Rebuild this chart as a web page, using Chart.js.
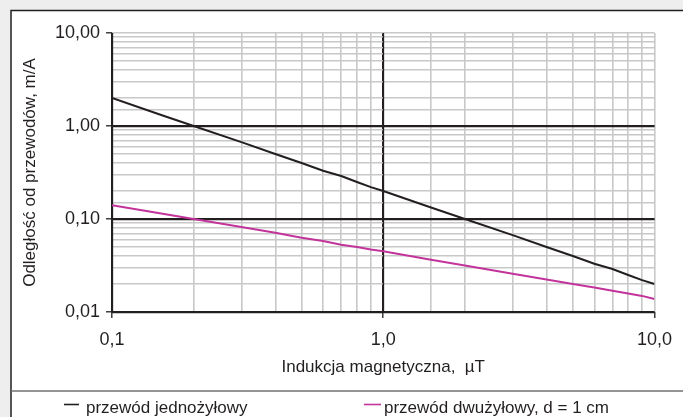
<!DOCTYPE html>
<html>
<head>
<meta charset="utf-8">
<script src="https://cdn.jsdelivr.net/npm/chart.js@4/dist/chart.umd.min.js"></script>
<style>
html,body{margin:0;padding:0;background:#eeeeee;overflow:hidden}
#c{display:block}
</style>
</head>
<body>
<canvas id="c" width="683" height="417"></canvas>
<script>
// ---- data ----
const induction = [0.1, 0.15, 0.2, 0.3, 0.4, 0.5, 0.6, 0.7, 0.8, 0.9, 1, 1.5, 2, 3, 4, 5, 6, 7, 8, 9, 10];
const singleWire = [2.0, 1.33, 1.0, 0.67, 0.5, 0.4, 0.33, 0.29, 0.25, 0.22, 0.2, 0.133, 0.1, 0.067, 0.05, 0.04, 0.033, 0.029, 0.025, 0.022, 0.02];
const twinWire = [0.141, 0.115, 0.1, 0.082, 0.071, 0.063, 0.058, 0.053, 0.05, 0.047, 0.045, 0.0365, 0.0316, 0.0258, 0.0224, 0.02, 0.0183, 0.0169, 0.0158, 0.0149, 0.0138];
const seriesLabels = ['przewód jednożyłowy', 'przewód dwużyłowy, d = 1 cm'];
const seriesColors = ['#231f20', '#c2349b'];
const xTickValues = [0.1, 1, 10];
const xTickLabels = ['0,1', '1,0', '10,0'];
const yTickValues = [0.01, 0.1, 1, 10];
const yTickLabels = ['0,01', '0,10', '1,00', '10,00'];
const xMajorLines = [0.1, 1];
const yMajorLines = [0.01, 0.1, 1];
const xTitle = 'Indukcja magnetyczna,  µT';
const yTitle = 'Odległość od przewodów, m/A';

const FONT = "'Liberation Sans', Arial, Helvetica, sans-serif";
const DARK = '#231f20';
const GRID = '#c8c8c8';

function findTick(v, vals) {
  for (let i = 0; i < vals.length; i++) {
    if (Math.abs(Math.log10(v) - Math.log10(vals[i])) < 1e-6) return i;
  }
  return -1;
}

const framePlugin = {
  id: 'frame',
  beforeDraw(chart) {
    const ctx = chart.ctx;
    ctx.save();
    ctx.fillStyle = '#eeeeee';
    ctx.fillRect(0, 0, chart.width, chart.height);
    ctx.fillStyle = '#ffffff';
    ctx.fillRect(11, 10, chart.width - 11, chart.height - 10);
    ctx.strokeStyle = DARK;
    ctx.lineWidth = 1.5;
    ctx.beginPath();
    ctx.moveTo(11, chart.height);
    ctx.lineTo(11, 10.5);
    ctx.lineTo(chart.width, 10.5);
    ctx.stroke();
    ctx.strokeStyle = '#707070';
    ctx.lineWidth = 1.5;
    ctx.beginPath();
    ctx.moveTo(11, 391);
    ctx.lineTo(chart.width, 391);
    ctx.stroke();
    ctx.restore();
  },
  beforeDatasetsDraw(chart) {
    // redraw the dark decade grid lines on top of the light minor grid
    const ctx = chart.ctx;
    const a = chart.chartArea;
    const xs = chart.scales.x, ys = chart.scales.y;
    ctx.save();
    ctx.strokeStyle = DARK;
    ctx.lineWidth = 1.3;
    ctx.beginPath();
    xMajorLines.forEach(v => {
      const px = Math.round(xs.getPixelForValue(v)) + 0.5;
      ctx.moveTo(px, a.top);
      ctx.lineTo(px, a.bottom);
    });
    yMajorLines.forEach(v => {
      const py = Math.round(ys.getPixelForValue(v)) + 0.5;
      ctx.moveTo(a.left, py);
      ctx.lineTo(a.right, py);
    });
    ctx.stroke();
    ctx.restore();
  },
  afterDraw(chart) {
    const ctx = chart.ctx;
    ctx.save();
    const items = [
      {x1: 64, x2: 79, tx: 86},
      {x1: 364, x2: 381, tx: 384}
    ];
    chart.data.datasets.forEach((ds, i) => {
      const it = items[i];
      ctx.strokeStyle = ds.borderColor;
      ctx.lineWidth = 1.6;
      ctx.beginPath();
      ctx.moveTo(it.x1, 404.5);
      ctx.lineTo(it.x2, 404.5);
      ctx.stroke();
      ctx.fillStyle = DARK;
      ctx.font = '17px ' + FONT;
      ctx.textBaseline = 'alphabetic';
      ctx.textAlign = 'left';
      ctx.fillText(ds.label, it.tx, 413);
    });
    ctx.restore();
  }
};

const pts = (ys) => induction.map((x, i) => ({x: x, y: ys[i]}));

new Chart(document.getElementById('c'), {
  type: 'line',
  data: {
    datasets: [
      {label: seriesLabels[0], data: pts(singleWire), borderColor: seriesColors[0], borderWidth: 2, pointRadius: 0, tension: 0, fill: false},
      {label: seriesLabels[1], data: pts(twinWire), borderColor: seriesColors[1], borderWidth: 2, pointRadius: 0, tension: 0, fill: false}
    ]
  },
  options: {
    responsive: false,
    animation: false,
    devicePixelRatio: 1,
    layout: {padding: {left: 12, top: 33, right: 27, bottom: 26}},
    plugins: {legend: {display: false}, tooltip: {enabled: false}},
    scales: {
      x: {
        type: 'logarithmic',
        min: 0.1,
        max: 10,
        afterFit(s) { s.height = 79; },
        border: {display: false},
        grid: {
          drawTicks: true,
          tickLength: 6,
          color: (c) => { const v = c.tick && c.tick.value; return (findTick(v, xMajorLines) >= 0) ? DARK : GRID; },
          lineWidth: 1.6,
          tickColor: (c) => { const v = c.tick && c.tick.value; return findTick(v, xTickValues) >= 0 ? DARK : 'rgba(0,0,0,0)'; },
          tickWidth: 1.3
        },
        ticks: {
          autoSkip: false,
          maxRotation: 0,
          padding: 11,
          color: DARK,
          font: {family: FONT, size: 18},
          callback: (v) => { const i = findTick(v, xTickValues); return i >= 0 ? xTickLabels[i] : ''; }
        },
        title: {display: true, text: xTitle, color: DARK, font: {family: FONT, size: 17}, padding: {top: 0, bottom: 13}}
      },
      y: {
        type: 'logarithmic',
        min: 0.01,
        max: 10,
        afterFit(s) { s.width = 100; },
        border: {display: false},
        grid: {
          drawTicks: true,
          tickLength: 6,
          color: (c) => { const v = c.tick && c.tick.value; return (findTick(v, yMajorLines) >= 0) ? DARK : GRID; },
          lineWidth: 1.6,
          tickColor: (c) => { const v = c.tick && c.tick.value; return findTick(v, yTickValues) >= 0 ? DARK : 'rgba(0,0,0,0)'; },
          tickWidth: 1.3
        },
        ticks: {
          autoSkip: false,
          padding: 6,
          color: DARK,
          font: {family: FONT, size: 18},
          callback: (v) => { const i = findTick(v, yTickValues); return i >= 0 ? yTickLabels[i] : ''; }
        },
        title: {display: true, text: yTitle, color: DARK, font: {family: FONT, size: 17}, padding: {top: 8, bottom: 0}}
      }
    }
  },
  plugins: [framePlugin]
});
</script>
</body>
</html>
